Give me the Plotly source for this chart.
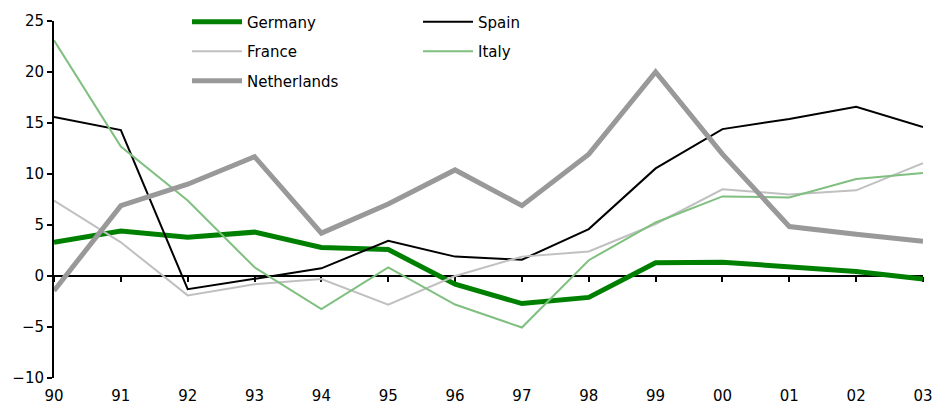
import plotly.graph_objects as go

years = ["90", "91", "92", "93", "94", "95", "96", "97", "98", "99", "00", "01", "02", "03"]
germany = [3.3, 4.4, 3.8, 4.3, 2.8, 2.6, -0.8, -2.7, -2.1, 1.3, 1.35, 0.85, 0.45, -0.3]
spain = [15.6, 14.3, -1.3, -0.3, 0.75, 3.45, 1.9, 1.6, 4.6, 10.55, 14.4, 15.4, 16.6, 14.6]
france = [7.4, 3.3, -1.9, -0.8, -0.3, -2.8, 0.0, 1.9, 2.4, 5.1, 8.5, 8.0, 8.4, 11.05]
italy = [23.1, 12.7, 7.4, 0.85, -3.25, 0.85, -2.8, -5.05, 1.55, 5.25, 7.8, 7.7, 9.5, 10.1]
netherlands = [-1.45, 6.9, 9.0, 11.7, 4.2, 7.05, 10.4, 6.9, 11.95, 20.0, 11.95, 4.85, 4.1, 3.4]

xs = list(range(len(years)))
FONT = "Verdana, DejaVu Sans, sans-serif"

series = [
    ("Germany", germany, "#008000", 5, "legend"),
    ("Spain", spain, "#000000", 2, "legend2"),
    ("France", france, "#C0C0C0", 2, "legend"),
    ("Italy", italy, "#7FBF7F", 2, "legend2"),
    ("Netherlands", netherlands, "#999999", 5, "legend"),
]

fig = go.Figure()
fig.add_trace(go.Scatter(x=[], y=[], xaxis="x2", showlegend=False, hoverinfo="skip"))
for name, vals, color, width, lg in series:
    fig.add_trace(go.Scatter(
        x=xs, y=vals, name=name, mode="lines",
        line=dict(color=color, width=width),
        legend=lg, legendgroup=name,
    ))

W, H = 949, 409
PL, PR, PT, PB = 54, 26, 21, 31
PW = W - PL - PR
PH = H - PT - PB

def lx(px):
    return (px - PL) / PW

def ly(py):
    return 1 - (py - PT) / PH

fig.update_layout(
    width=W, height=H,
    margin=dict(l=PL, r=PR, t=PT, b=PB, autoexpand=False),
    paper_bgcolor="white", plot_bgcolor="white",
    font=dict(family=FONT, size=15, color="#000000"),
    xaxis=dict(
        range=[0, 13], tickmode="array", tickvals=xs, ticktext=years,
        showgrid=False, zeroline=False, showline=False, ticks="",
        tickfont=dict(size=15), ticklabelstandoff=7,
    ),
    xaxis2=dict(
        overlaying="x", matches="x", anchor="free", position=10 / 35,
        range=[0, 13], tickmode="array", tickvals=xs, showticklabels=False,
        showgrid=False, zeroline=False, showline=True, linecolor="#000000", linewidth=2,
        ticks="outside", ticklen=5, tickwidth=2, tickcolor="#000000", layer="below traces",
    ),
    yaxis=dict(
        range=[-10, 25], tickmode="array", tickvals=[-10, -5, 0, 5, 10, 15, 20, 25],
        showgrid=False, zeroline=False, showline=True, linecolor="#000000", linewidth=2,
        ticks="outside", ticklen=5, tickwidth=2, tickcolor="#000000",
        tickfont=dict(size=15),
    ),
    legend=dict(
        x=lx(187), y=ly(5.5), xanchor="left", yanchor="top", bgcolor="rgba(0,0,0,0)",
        font=dict(family=FONT, size=15), tracegroupgap=7, itemwidth=50,
    ),
    legend2=dict(
        x=lx(418), y=ly(5.5), xanchor="left", yanchor="top", bgcolor="rgba(0,0,0,0)",
        font=dict(family=FONT, size=15), tracegroupgap=7, itemwidth=50,
    ),
    showlegend=True,
)

fig.write_html(
    "out.html",
    config={"displayModeBar": False},
    post_script="document.body.style.margin='0';document.body.style.overflow='hidden';",
)
